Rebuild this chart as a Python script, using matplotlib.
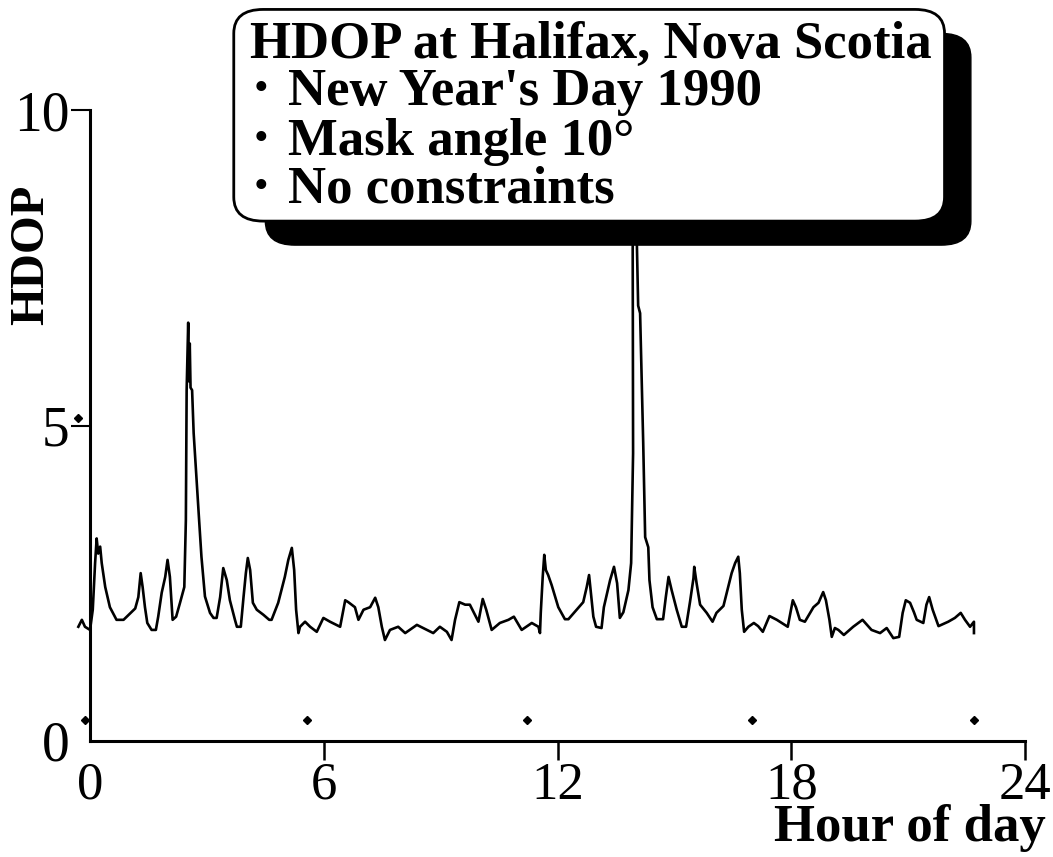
import matplotlib
matplotlib.use("Agg")
import matplotlib.pyplot as plt
from matplotlib.patches import FancyBboxPatch

plt.rcParams['font.family'] = ['Liberation Serif', 'DejaVu Serif']

# HDOP trace (hour of day, HDOP)
hours = [-0.30, -0.21, -0.13, 0.00, 0.07, 0.13, 0.17, 0.21, 0.26, 0.30,
         0.39, 0.51, 0.68, 0.86, 1.16, 1.24, 1.30, 1.35, 1.41, 1.47,
         1.58, 1.69, 1.75, 1.84, 1.93, 1.99, 2.05, 2.12, 2.21, 2.31,
         2.42, 2.46, 2.48, 2.52, 2.54, 2.56, 2.58, 2.62, 2.66, 2.75,
         2.80, 2.86, 2.95, 3.08, 3.17, 3.25, 3.34, 3.42, 3.51, 3.59,
         3.72, 3.77, 3.87, 3.94, 4.00, 4.05, 4.11, 4.18, 4.28, 4.45,
         4.60, 4.66, 4.83, 5.00, 5.09, 5.18, 5.24, 5.29, 5.35, 5.39,
         5.52, 5.65, 5.82, 5.99, 6.16, 6.42, 6.55, 6.63, 6.80, 6.89,
         7.02, 7.19, 7.32, 7.40, 7.49, 7.57, 7.70, 7.91, 8.09, 8.39,
         8.81, 8.98, 9.16, 9.28, 9.37, 9.48, 9.63, 9.75, 9.88, 9.97,
         10.08, 10.17, 10.31, 10.52, 10.74, 10.88, 11.08, 11.34, 11.51, 11.55,
         11.57, 11.62, 11.66, 11.70, 11.76, 11.85, 12.02, 12.19, 12.28, 12.66,
         12.75, 12.81, 12.85, 12.92, 12.99, 13.13, 13.19, 13.35, 13.45, 13.53,
         13.60, 13.69, 13.82, 13.89, 13.94, 13.93, 13.98, 14.04, 14.07, 14.12,
         14.20, 14.25, 14.33, 14.36, 14.44, 14.55, 14.71, 14.78, 14.85, 14.93,
         15.06, 15.19, 15.30, 15.40, 15.49, 15.51, 15.57, 15.66, 15.83, 15.98,
         16.08, 16.26, 16.36, 16.47, 16.56, 16.64, 16.68, 16.73, 16.79, 16.90,
         17.04, 17.15, 17.27, 17.44, 17.63, 17.91, 17.97, 18.04, 18.12, 18.22,
         18.35, 18.57, 18.70, 18.82, 18.89, 18.98, 19.04, 19.12, 19.21, 19.35,
         19.59, 19.83, 20.06, 20.28, 20.45, 20.62, 20.77, 20.86, 20.94, 21.05,
         21.15, 21.22, 21.39, 21.47, 21.54, 21.63, 21.78, 22.03, 22.20, 22.35,
         22.46, 22.59, 22.69, 22.69]
hdop = [1.81, 1.92, 1.81, 1.76, 2.08, 2.82, 3.21, 2.97, 3.08, 2.82,
        2.44, 2.12, 1.92, 1.92, 2.10, 2.28, 2.66, 2.44, 2.12, 1.87,
        1.76, 1.76, 1.97, 2.35, 2.60, 2.87, 2.60, 1.92, 1.97, 2.19,
        2.44, 3.50, 5.56, 6.63, 5.70, 6.30, 5.60, 5.56, 4.88, 3.98,
        3.50, 2.92, 2.29, 2.03, 1.95, 1.95, 2.28, 2.74, 2.55, 2.23,
        1.92, 1.81, 1.81, 2.28, 2.66, 2.90, 2.71, 2.19, 2.08, 2.00,
        1.92, 1.92, 2.19, 2.60, 2.87, 3.06, 2.71, 2.08, 1.71, 1.81,
        1.89, 1.81, 1.73, 1.95, 1.89, 1.81, 2.23, 2.20, 2.12, 1.92,
        2.08, 2.12, 2.27, 2.12, 1.81, 1.60, 1.76, 1.81, 1.71, 1.84,
        1.71, 1.81, 1.73, 1.60, 1.92, 2.20, 2.16, 2.16, 2.00, 1.89,
        2.25, 2.08, 1.76, 1.87, 1.92, 1.97, 1.76, 1.87, 1.81, 1.71,
        2.03, 2.60, 2.95, 2.71, 2.63, 2.47, 2.12, 1.93, 1.93, 2.20,
        2.44, 2.63, 2.39, 1.97, 1.81, 1.79, 2.12, 2.55, 2.76, 2.50,
        1.95, 2.04, 2.39, 2.82, 4.56, 7.80, 9.80, 7.80, 6.90, 6.78,
        4.72, 3.23, 3.07, 2.55, 2.12, 1.93, 1.93, 2.28, 2.60, 2.39,
        2.08, 1.81, 1.81, 2.20, 2.58, 2.76, 2.50, 2.16, 2.03, 1.89,
        2.03, 2.14, 2.39, 2.66, 2.82, 2.92, 2.66, 2.08, 1.73, 1.81,
        1.87, 1.82, 1.73, 1.98, 1.92, 1.81, 2.00, 2.23, 2.12, 1.92,
        1.89, 2.12, 2.19, 2.36, 2.23, 1.92, 1.65, 1.79, 1.76, 1.68,
        1.81, 1.92, 1.76, 1.71, 1.79, 1.63, 1.65, 2.03, 2.23, 2.19,
        2.04, 1.92, 1.87, 2.16, 2.28, 2.08, 1.82, 1.89, 1.95, 2.03,
        1.92, 1.81, 1.89, 1.71]

# stray dots printed on the original plot
dot_x = [-0.13, 5.57, 11.22, 17.0, 22.69, -0.31]
dot_y = [0.33, 0.33, 0.33, 0.33, 0.33, 5.12]

x_ticks = [0, 6, 12, 18, 24]
y_ticks = [0, 5, 10]

title_head = "HDOP at Halifax, Nova Scotia"
bullet_items = ["New Year's Day 1990", "Mask angle 10\u00b0", "No constraints"]

fig = plt.figure(figsize=(10.53, 8.57), dpi=100)
ax = fig.add_axes([0.0855, 0.1354, 0.8879, 0.7362])

ax.plot(hours, hdop, color='black', linewidth=1.9, clip_on=False, zorder=3)
ax.plot(dot_x, dot_y, linestyle='none', marker='D', markersize=4,
        color='black', clip_on=False)

ax.set_xlim(0, 24)
ax.set_ylim(0, 10)
ax.spines['top'].set_visible(False)
ax.spines['right'].set_visible(False)
ax.spines['left'].set_linewidth(2.2)
ax.spines['bottom'].set_linewidth(2.2)

ax.set_xticks(x_ticks)
ax.set_yticks(y_ticks)
ax.tick_params(axis='x', direction='out', length=14, width=1.8, pad=1, labelsize=38)
ax.tick_params(axis='y', direction='out', length=14, width=1.5, pad=1, labelsize=40)
ax.xaxis.get_major_ticks()[0].tick1line.set_visible(False)
ax.yaxis.get_major_ticks()[0].tick1line.set_visible(False)

ax.set_ylabel("HDOP", fontsize=35, fontweight='bold')
ax.yaxis.set_label_coords(-0.040, 0.77)
ax.set_xlabel("Hour of day", fontsize=38, fontweight='bold', ha='right', va='center')
ax.xaxis.set_label_coords(1.022, -0.138)

# caption box with drop shadow
shadow = FancyBboxPatch((0.252, 0.714), 0.670, 0.247,
                        boxstyle="round,pad=0,rounding_size=0.028",
                        transform=fig.transFigure, facecolor='black',
                        edgecolor='black', zorder=5)
box = FancyBboxPatch((0.222, 0.742), 0.675, 0.247,
                     boxstyle="round,pad=0,rounding_size=0.028",
                     transform=fig.transFigure, facecolor='white',
                     edgecolor='black', linewidth=2.0, zorder=6)
fig.patches.extend([shadow, box])

fig.text(250 / 1053, 1 - 58 / 857, title_head, fontsize=38, fontweight='bold',
         ha='left', va='baseline', zorder=7)
for txt, py in zip(bullet_items, [105, 155, 203]):
    fig.text(254 / 1053, 1 - (py - 15) / 857, "\u2022", fontsize=30,
             ha='left', va='center', zorder=7)
    fig.text(288 / 1053, 1 - py / 857, txt, fontsize=38, fontweight='bold',
             ha='left', va='baseline', zorder=7)

fig.savefig("out.png", dpi=100)
